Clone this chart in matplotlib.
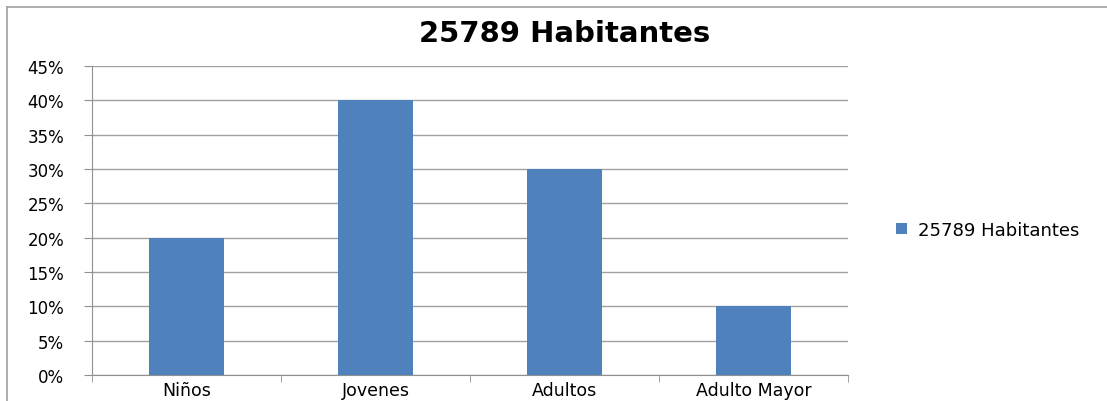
import matplotlib.pyplot as plt
from matplotlib.lines import Line2D
from matplotlib.ticker import PercentFormatter

categorias = ['Niños', 'Jovenes', 'Adultos', 'Adulto Mayor']
porcentajes = [0.20, 0.40, 0.30, 0.10]
serie = '25789 Habitantes'

W, H = 1107, 402
fig = plt.figure(figsize=(W / 100, H / 100), dpi=100)

# marco gris del área del gráfico (recortado a la derecha y abajo)
fig.add_artist(Line2D([7 / W, 1], [1 - 8 / H, 1 - 8 / H], color='#a0a0a0', lw=1.2))
fig.add_artist(Line2D([7 / W, 7 / W], [0, 1 - 8 / H], color='#a0a0a0', lw=1.2))

ax = fig.add_axes([92 / W, 1 - 376 / H, (848 - 92) / W, (376 - 67) / H])
x = range(len(categorias))
ax.bar(x, porcentajes, width=0.4, color='#4f81bd', label=serie, zorder=3)

ax.set_xlim(-0.5, len(categorias) - 0.5)
ax.set_ylim(0, 0.45)
ax.set_yticks([i * 0.05 for i in range(10)])
ax.yaxis.set_major_formatter(PercentFormatter(1.0, decimals=0))
ax.grid(axis='y', color='#a0a0a0', lw=1, zorder=0)

ax.set_xticks(x)
ax.set_xticklabels(categorias, fontsize=12.5)
ax.set_xticks([i - 0.5 for i in range(len(categorias) + 1)], minor=True)
ax.tick_params(axis='x', which='major', length=0, pad=4)
ax.tick_params(axis='x', which='minor', length=5, color='#909090')
ax.tick_params(axis='y', length=6, color='#909090', labelsize=12, pad=14)

for s in ['top', 'right']:
    ax.spines[s].set_visible(False)
for s in ['left', 'bottom']:
    ax.spines[s].set_color('#909090')

fig.text(565 / W, 1 - 34 / H, serie, ha='center', va='center',
         fontsize=21, fontweight='bold')

ax.legend(loc='center left', bbox_to_anchor=(880 / W, 1 - 231 / H),
          bbox_transform=fig.transFigure, frameon=False, fontsize=13,
          handlelength=0.6, handleheight=0.6, handletextpad=0.6)

fig.savefig('out.png', dpi=100)
